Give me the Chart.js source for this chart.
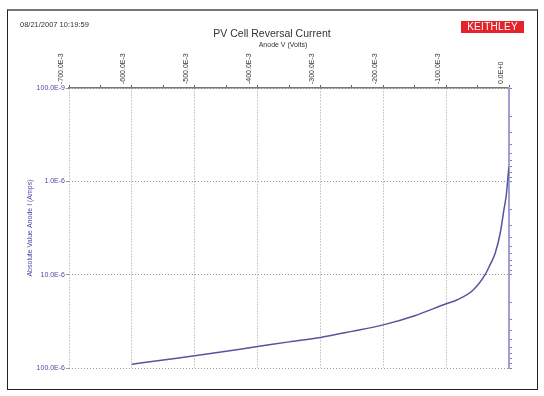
<!DOCTYPE html>
<html>
<head>
<meta charset="utf-8">
<script src="https://cdn.jsdelivr.net/npm/chart.js@4"></script>
<style>
  body { margin: 0; background: #fff; }
  #wrap { position: relative; width: 544px; height: 396px; font-family: "Liberation Sans", Arial, sans-serif; }
  #frame { position: absolute; left: 7px; top: 9px; width: 529px; height: 378px; border: 1px solid #222; border-top: 2px solid #777; }
  canvas { position: absolute; left: 0; top: 0; }
  .txt { position: absolute; white-space: nowrap; line-height: 1; color: #333; }
  #stamp { left: 20px; top: 21px; font-size: 7.5px; }
  #title { left: 172px; width: 200px; top: 28px; font-size: 10.5px; text-align: center; }
  #sub { left: 233px; width: 100px; top: 41px; font-size: 7px; text-align: center; }
  #logo { left: 461px; top: 21px; width: 63px; height: 12px; line-height: 12px; background: #e3222a; color: #fff; font-size: 10px; text-align: center; letter-spacing: 0.3px; }
</style>
</head>
<body>
<div id="wrap">
  <div id="frame"></div>
  <canvas id="grafico" width="544" height="396"></canvas>
  <div class="txt" id="stamp">08/21/2007 10:19:59</div>
  <div class="txt" id="title">PV Cell Reversal Current</div>
  <div class="txt" id="sub">Anode V (Volts)</div>
  <div class="txt" id="logo">KEITHLEY</div>
</div>
<script>
// Datos (V, |I|)
const voltajes = [-0.6, -0.55, -0.5, -0.45, -0.4, -0.35, -0.3, -0.25, -0.2, -0.15, -0.1, -0.083, -0.057, -0.038, -0.03, -0.022, -0.014, -0.008, -0.004, -0.001, 0];
const corrientes = [9.1e-5, 8.2e-5, 7.4e-5, 6.6e-5, 5.9e-5, 5.25e-5, 4.7e-5, 4.05e-5, 3.45e-5, 2.75e-5, 2.05e-5, 1.87e-5, 1.46e-5, 1.0e-5, 7.8e-6, 5.9e-6, 3.6e-6, 2.0e-6, 1.35e-6, 8.0e-7, 7.0e-7];

const xTicks = [-0.7, -0.6, -0.5, -0.4, -0.3, -0.2, -0.1, 0];
const xTickLabels = ['-700.0E-3', '-600.0E-3', '-500.0E-3', '-400.0E-3', '-300.0E-3', '-200.0E-3', '-100.0E-3', '0.0E+0'];
const yTicks = [1e-7, 1e-6, 1e-5, 1e-4];
const yTickLabels = ['100.0E-9', '1.0E-6', '10.0E-6', '100.0E-6'];

const azul = '#4a4aa6';
const gris = '#9a9a9a';

Chart.defaults.font.family = '"Liberation Sans", Arial, sans-serif';

// ticks del eje x: mayores + intermedios
const xTodos = [];
xTicks.forEach((v, i) => {
  xTodos.push({ value: v, major: true });
  if (i < xTicks.length - 1) xTodos.push({ value: (v + xTicks[i + 1]) / 2, major: false });
});

// ticks menores logaritmicos para el eje derecho
const yMenores = [];
yTicks.forEach((d, i) => {
  if (i < yTicks.length - 1) {
    for (let k = 1; k <= 9; k++) yMenores.push({ value: d * k });
  } else {
    yMenores.push({ value: d });
  }
});

const ctx = document.getElementById('grafico').getContext('2d');
new Chart(ctx, {
  type: 'line',
  data: {
    datasets: [{
      data: voltajes.map((v, i) => ({ x: v, y: corrientes[i] })),
      borderColor: '#55559f',
      borderWidth: 1.5,
      pointRadius: 0,
      cubicInterpolationMode: 'monotone',
      fill: false,
      yAxisID: 'y'
    }]
  },
  options: {
    responsive: false,
    animation: false,
    devicePixelRatio: 1,
    layout: { padding: { top: 0, left: 0, right: 0, bottom: 28 } },
    plugins: { legend: { display: false }, tooltip: { enabled: false } },
    scales: {
      x: {
        type: 'linear',
        position: 'top',
        min: -0.7,
        max: 0,
        afterBuildTicks: s => { s.ticks = xTodos.map(t => ({ value: t.value })); },
        afterFit: s => { s.height = 88; },
        ticks: {
          autoSkip: false,
          minRotation: 90,
          maxRotation: 90,
          padding: 1,
          color: '#333',
          font: { size: 7 },
          callback: (v, i) => {
            const k = xTicks.findIndex(t => Math.abs(t - v) < 1e-9);
            return k >= 0 ? xTickLabels[k] : '';
          }
        },
        grid: {
          color: c => (c.tick && xTicks.some(t => Math.abs(t - c.tick.value) < 1e-9)) ? gris : 'rgba(0,0,0,0)',
          tickColor: '#666',
          tickLength: 3,
          lineWidth: 1
        },
        border: { display: true, color: '#777', width: 1.5, dash: [1, 2] }
      },
      y: {
        type: 'logarithmic',
        position: 'left',
        reverse: true,
        min: 1e-7,
        max: 1e-4,
        afterBuildTicks: s => { s.ticks = yTicks.map(v => ({ value: v })); },
        afterFit: s => { s.width = 69; },
        ticks: {
          padding: 1,
          color: azul,
          font: { size: 7 },
          callback: (v, i) => yTickLabels[i]
        },
        grid: { color: gris, tickColor: gris, tickLength: 3 },
        border: { display: false, dash: [1, 2] },
        title: {
          display: true,
          text: 'Absolute Value Anode I (Amps)',
          color: azul,
          font: { size: 7 },
          padding: { top: 26, bottom: 0 }
        }
      },
      y2: {
        type: 'logarithmic',
        position: 'right',
        reverse: true,
        min: 1e-7,
        max: 1e-4,
        afterBuildTicks: s => { s.ticks = yMenores; },
        afterFit: s => { s.width = 35; },
        ticks: { display: false },
        grid: { drawOnChartArea: false, color: '#7f7fbf', tickLength: 3 },
        border: { display: true, color: '#a0a0d4', width: 2 }
      }
    }
  }
});
</script>
</body>
</html>
